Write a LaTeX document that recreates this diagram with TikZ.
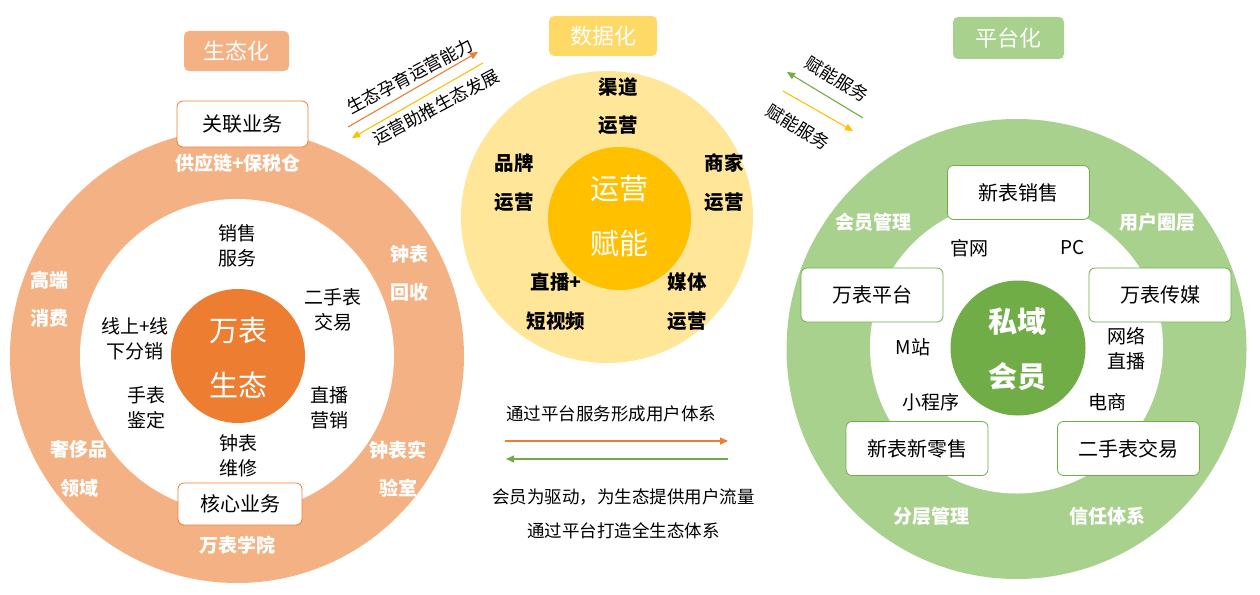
\documentclass[tikz,border=0pt]{standalone}
\usepackage{fontspec}
\setmainfont{Noto Sans CJK SC}
\usetikzlibrary{arrows.meta}
\definecolor{lor}{HTML}{F4B183}
\definecolor{dor}{HTML}{ED7D31}
\definecolor{lye}{HTML}{FFE699}
\definecolor{dye}{HTML}{FFC000}
\definecolor{tye}{HTML}{FFD966}
\definecolor{lgr}{HTML}{A9D18E}
\definecolor{dgr}{HTML}{70AD47}
\begin{document}
\begin{tikzpicture}[x=1pt,y=-1pt,
  disc/.style={circle,inner sep=0pt,draw=none},
  lbl/.style={font=\fontsize{19}{25}\selectfont,align=center,inner sep=0pt,text=black},
  wlbl/.style={font=\bfseries\fontsize{19}{38.5}\selectfont,align=center,inner sep=0pt,text=white},
  blbl/.style={font=\bfseries\fontsize{19.5}{38.5}\selectfont,align=center,inner sep=0pt,text=black},
  ctr/.style={font=\fontsize{29}{55}\selectfont,align=center,inner sep=0pt,text=white},
  boxo/.style={draw=dor,line width=0.8pt,fill=white,rounded corners=6pt,inner sep=0pt,font=\fontsize{20}{20}\selectfont},
  boxg/.style={draw=dgr,line width=0.8pt,fill=white,rounded corners=6pt,inner sep=0pt,font=\fontsize{20}{20}\selectfont,minimum width=142pt,minimum height=54pt},
  ttl/.style={rounded corners=5pt,inner sep=0pt,text=white,font=\fontsize{22}{22}\selectfont,minimum height=40pt},
  note/.style={font=\fontsize{17.5}{34}\selectfont,align=center,inner sep=0pt},
  arr/.style={line width=1.1pt,-{Triangle[length=8pt,width=7pt]}}
]
\useasboundingbox (0,0) rectangle (1260,594);

% ---------- left: ecosystem ----------
\node[disc,fill=lor,minimum size=454pt] (lout) at (237,356) {};
\node[disc,fill=white,minimum size=314pt] (lmid) at (237,356) {};
\node[disc,fill=dor,minimum size=134pt] (lin) at (238,356) {};
\node[ctr] (lc) at (238,357.5) {万表\\生态};

\node[boxo,minimum width=131pt,minimum height=46pt] (b1) at (242.5,124) {关联业务};
\node[boxo,minimum width=124pt,minimum height=42pt] (b2) at (240,504) {核心业务};

\node[wlbl] (w1) at (238,163) {供应链+保税仓};
\node[wlbl] (w2) at (409,273.5) {钟表\\回收};
\node[wlbl] (w3) at (49,299) {高端\\消费};
\node[wlbl] (w4) at (79,469) {奢侈品\\领域};
\node[wlbl] (w5) at (398,469) {钟表实\\验室};
\node[wlbl] (w6) at (237,545) {万表学院};

\node[lbl] (i1) at (237,245.5) {销售\\服务};
\node[lbl] (i2) at (333,309.5) {二手表\\交易};
\node[lbl] (i3) at (135,338.5) {线上+线\\下分销};
\node[lbl] (i4) at (146,408) {手表\\鉴定};
\node[lbl] (i5) at (329,408) {直播\\营销};
\node[lbl] (i6) at (238,455.5) {钟表\\维修};

% ---------- middle: data ----------
\node[disc,fill=lye,minimum size=292pt] (mout) at (607,217) {};
\node[disc,fill=dye,minimum size=143pt] (min) at (619.5,218.5) {};
\node[ctr] (mc) at (619,215.5) {运营\\赋能};

\node[blbl] (m1) at (618,106) {渠道\\运营};
\node[blbl] (m2) at (514,182.5) {品牌\\运营};
\node[blbl] (m3) at (724,182.5) {商家\\运营};
\node[blbl] (m4) at (556,301.5) {直播+\\短视频};
\node[blbl] (m5) at (687,301.5) {媒体\\运营};

% ---------- right: platform ----------
\node[disc,fill=lgr,minimum size=460pt] (rout) at (1016.5,349) {};
\node[disc,fill=white,minimum size=293pt] (rmid) at (1016.5,347) {};
\node[disc,fill=dgr,minimum size=135pt] (rin) at (1018,348) {};
\node[ctr,font=\bfseries\fontsize{29}{55}\selectfont] (rc) at (1017,349.5) {私域\\会员};

\node[boxg] (g1) at (1018.5,192.5) {新表销售};
\node[boxg] (g2) at (872,295) {万表平台};
\node[boxg] (g3) at (1160,295) {万表传媒};
\node[boxg] (g4) at (917,448.5) {新表新零售};
\node[boxg] (g5) at (1128.5,448.5) {二手表交易};

\node[wlbl] (x1) at (873,222) {会员管理};
\node[wlbl] (x2) at (1157,222) {用户圈层};
\node[wlbl] (x3) at (931,516) {分层管理};
\node[wlbl] (x4) at (1107,516) {信任体系};

\node[lbl] (y1) at (969,248) {官网};
\node[lbl] (y2) at (1073,248) {PC};
\node[lbl] (y3) at (913,347) {M站};
\node[lbl] (y4) at (1126,348.5) {网络\\直播};
\node[lbl] (y5) at (931,402) {小程序};
\node[lbl] (y6) at (1107,402) {电商};

% ---------- titles ----------
\node[ttl,fill=lor,minimum width=105pt] (t1) at (236.5,51) {生态化};
\node[ttl,fill=tye,minimum width=108pt] (t2) at (603,36) {数据化};
\node[ttl,fill=lgr,minimum width=111pt,minimum height=42pt] (t3) at (1008.5,38) {平台化};

% ---------- arrows top-left ----------
\coordinate (a1s) at (348,127);
\coordinate (a1e) at (478,52);
\coordinate (a2s) at (483,63);
\coordinate (a2e) at (352,138);
\draw[arr,draw=dor,-{Triangle[length=8pt,width=7pt,fill=dor]}] (a1s) -- (a1e);
\draw[arr,draw=dye,-{Triangle[length=8pt,width=7pt,fill=dye]}] (a2s) -- (a2e);
\node[note,rotate=28] (n1) at (410,76) {生态孕育运营能力};
\node[note,rotate=28] (n2) at (436,107) {运营助推生态发展};

% ---------- arrows top-right ----------
\coordinate (a3s) at (863,118);
\coordinate (a3e) at (787,72);
\coordinate (a4s) at (783,91);
\coordinate (a4e) at (853,131);
\draw[arr,draw=dgr] (a3s) -- (a3e);
\draw[arr,draw=dye] (a4s) -- (a4e);
\node[note,rotate=-32] (n3) at (837,79) {赋能服务};
\node[note,rotate=-32] (n4) at (798,127) {赋能服务};

% ---------- arrows middle ----------
\coordinate (a5s) at (505,441);
\coordinate (a5e) at (728,441);
\coordinate (a6s) at (728,459);
\coordinate (a6e) at (506,459);
\draw[arr,draw=dor] (a5s) -- (a5e);
\draw[arr,draw=dgr] (a6s) -- (a6e);
\node[note] (n5) at (611,414) {通过平台服务形成用户体系};
\node[note] (n6) at (623.5,514) {会员为驱动，为生态提供用户流量\\通过平台打造全生态体系};
\end{tikzpicture}
\end{document}
